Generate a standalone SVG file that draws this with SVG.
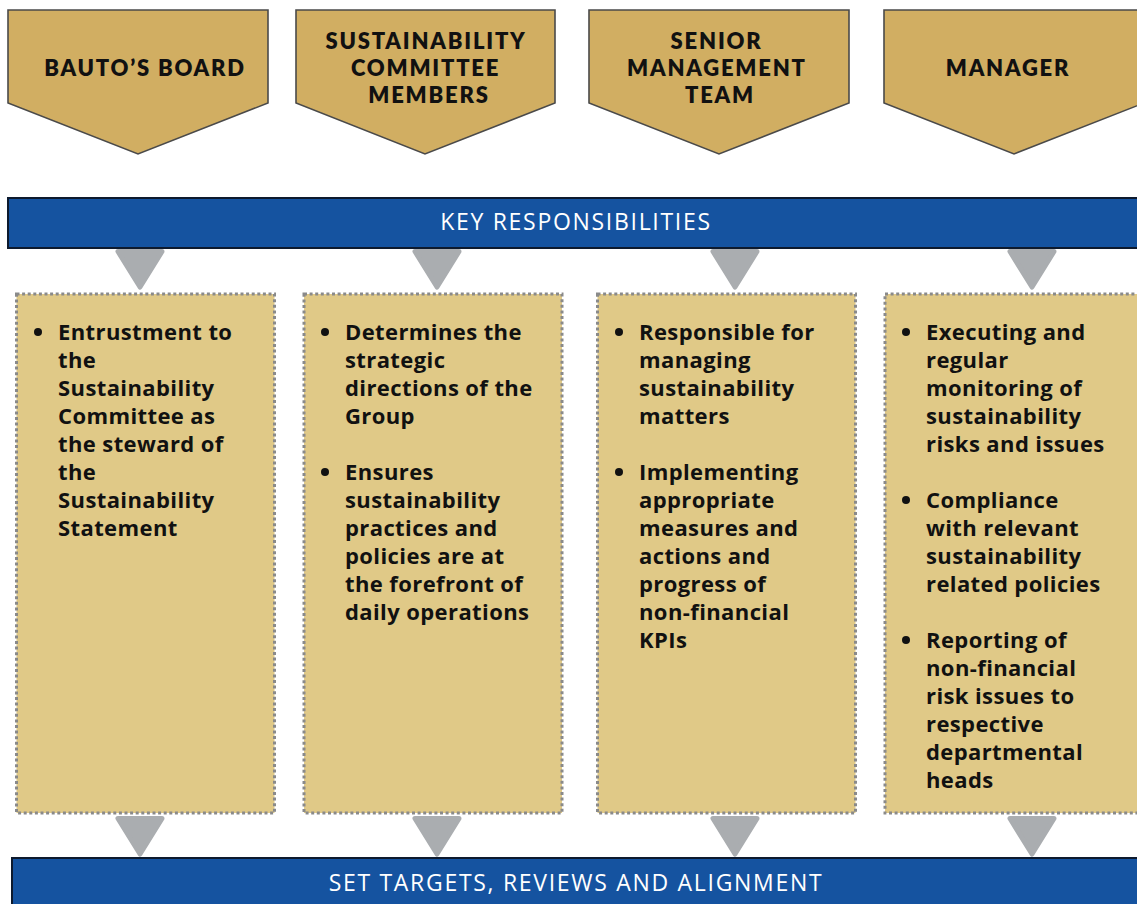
<svg xmlns="http://www.w3.org/2000/svg" width="1137" height="904" viewBox="0 0 1137 904">
  <style>
    .chev { fill: #d1ae62; stroke: #4a4a4a; stroke-width: 1.6; }
    .head { font-family: Lato, "Open Sans", "Liberation Sans", sans-serif; font-weight: 800; font-size: 22px; letter-spacing: 1.8px; fill: #111; text-anchor: middle; }
    .bar { fill: #1553a0; stroke: #0d1a2e; stroke-width: 2; }
    .bartxt { font-family: "Open Sans", "Liberation Sans", sans-serif; font-size: 23px; letter-spacing: 1.7px; fill: #ffffff; text-anchor: middle; }
    .card { fill: #e0c987; stroke: #8a8a8a; stroke-width: 3; stroke-dasharray: 3 2.6; }
    .body { font-family: "Open Sans", "Liberation Sans", sans-serif; font-weight: 700; font-size: 22px; letter-spacing: 0.4px; fill: #111; }
    .tri { fill: #aaadb0; stroke: #aaadb0; stroke-width: 5; stroke-linejoin: round; }
  </style>
  <defs>
    <path id="tri" class="tri" d="M -22 2.5 L 22 2.5 L 0 38 Z"/>
  </defs>
  <rect width="1137" height="904" fill="#ffffff"/>

  <!-- role headers -->
  <g id="role-board">
    <path class="chev" d="M8 10 H268 V103 L138 154 L8 103 Z"/>
    <text class="head" x="145" y="76">BAUTO’S BOARD</text>
  </g>
  <g id="role-committee">
    <path class="chev" d="M296 10 H555 V103 L425 154 L296 103 Z"/>
    <text class="head">
      <tspan x="429" y="49">SUSTAINABILITY</tspan>
      <tspan x="429" y="76">COMMITTEE</tspan>
      <tspan x="429" y="103">MEMBERS</tspan>
    </text>
  </g>
  <g id="role-senior">
    <path class="chev" d="M589 10 H849 V103 L719 154 L589 103 Z"/>
    <text class="head">
      <tspan x="720" y="49">SENIOR</tspan>
      <tspan x="720" y="76">MANAGEMENT</tspan>
      <tspan x="720" y="103">TEAM</tspan>
    </text>
  </g>
  <g id="role-manager">
    <path class="chev" d="M884 10 H1144 V103 L1014 154 L884 103 Z"/>
    <text class="head" x="1008" y="76">MANAGER</text>
  </g>

  <!-- banner bars -->
  <g id="bar-responsibilities">
    <rect class="bar" x="8" y="198" width="1140" height="50"/>
    <text class="bartxt" x="576" y="230">KEY RESPONSIBILITIES</text>
  </g>
  <g id="bar-targets">
    <rect class="bar" x="12" y="858" width="1140" height="60"/>
    <text class="bartxt" x="576" y="891">SET TARGETS, REVIEWS AND ALIGNMENT</text>
  </g>

  <!-- flow arrows -->
  <g id="connectors">
    <use href="#tri" x="140" y="249"/>
    <use href="#tri" x="437" y="249"/>
    <use href="#tri" x="735" y="249"/>
    <use href="#tri" x="1032" y="249"/>
    <use href="#tri" x="140" y="816"/>
    <use href="#tri" x="437" y="816"/>
    <use href="#tri" x="735" y="816"/>
    <use href="#tri" x="1032" y="816"/>
  </g>

  <!-- responsibility cards -->
  <g id="card-board">
    <rect class="card" x="16.5" y="294" width="258" height="519"/>
    <circle cx="38" cy="332" r="4" fill="#111"/>
    <text class="body">
      <tspan x="58" y="340">Entrustment to</tspan>
      <tspan x="58" y="368">the</tspan>
      <tspan x="58" y="396">Sustainability</tspan>
      <tspan x="58" y="424">Committee as</tspan>
      <tspan x="58" y="452">the steward of</tspan>
      <tspan x="58" y="480">the</tspan>
      <tspan x="58" y="508">Sustainability</tspan>
      <tspan x="58" y="536">Statement</tspan>
    </text>
  </g>
  <g id="card-committee">
    <rect class="card" x="304" y="294" width="258" height="519"/>
    <circle cx="325" cy="332" r="4" fill="#111"/>
    <circle cx="325" cy="472" r="4" fill="#111"/>
    <text class="body">
      <tspan x="345" y="340">Determines the</tspan>
      <tspan x="345" y="368">strategic</tspan>
      <tspan x="345" y="396">directions of the</tspan>
      <tspan x="345" y="424">Group</tspan>
      <tspan x="345" y="480">Ensures</tspan>
      <tspan x="345" y="508">sustainability</tspan>
      <tspan x="345" y="536">practices and</tspan>
      <tspan x="345" y="564">policies are at</tspan>
      <tspan x="345" y="592">the forefront of</tspan>
      <tspan x="345" y="620">daily operations</tspan>
    </text>
  </g>
  <g id="card-senior">
    <rect class="card" x="597.5" y="294" width="258" height="519"/>
    <circle cx="619" cy="332" r="4" fill="#111"/>
    <circle cx="619" cy="472" r="4" fill="#111"/>
    <text class="body">
      <tspan x="639" y="340">Responsible for</tspan>
      <tspan x="639" y="368">managing</tspan>
      <tspan x="639" y="396">sustainability</tspan>
      <tspan x="639" y="424">matters</tspan>
      <tspan x="639" y="480">Implementing</tspan>
      <tspan x="639" y="508">appropriate</tspan>
      <tspan x="639" y="536">measures and</tspan>
      <tspan x="639" y="564">actions and</tspan>
      <tspan x="639" y="592">progress of</tspan>
      <tspan x="639" y="620">non-financial</tspan>
      <tspan x="639" y="648">KPIs</tspan>
    </text>
  </g>
  <g id="card-manager">
    <rect class="card" x="885" y="294" width="262" height="519"/>
    <circle cx="906" cy="332" r="4" fill="#111"/>
    <circle cx="906" cy="500" r="4" fill="#111"/>
    <circle cx="906" cy="640" r="4" fill="#111"/>
    <text class="body">
      <tspan x="926" y="340">Executing and</tspan>
      <tspan x="926" y="368">regular</tspan>
      <tspan x="926" y="396">monitoring of</tspan>
      <tspan x="926" y="424">sustainability</tspan>
      <tspan x="926" y="452">risks and issues</tspan>
      <tspan x="926" y="508">Compliance</tspan>
      <tspan x="926" y="536">with relevant</tspan>
      <tspan x="926" y="564">sustainability</tspan>
      <tspan x="926" y="592">related policies</tspan>
      <tspan x="926" y="648">Reporting of</tspan>
      <tspan x="926" y="676">non-financial</tspan>
      <tspan x="926" y="704">risk issues to</tspan>
      <tspan x="926" y="732">respective</tspan>
      <tspan x="926" y="760">departmental</tspan>
      <tspan x="926" y="788">heads</tspan>
    </text>
  </g>
</svg>
